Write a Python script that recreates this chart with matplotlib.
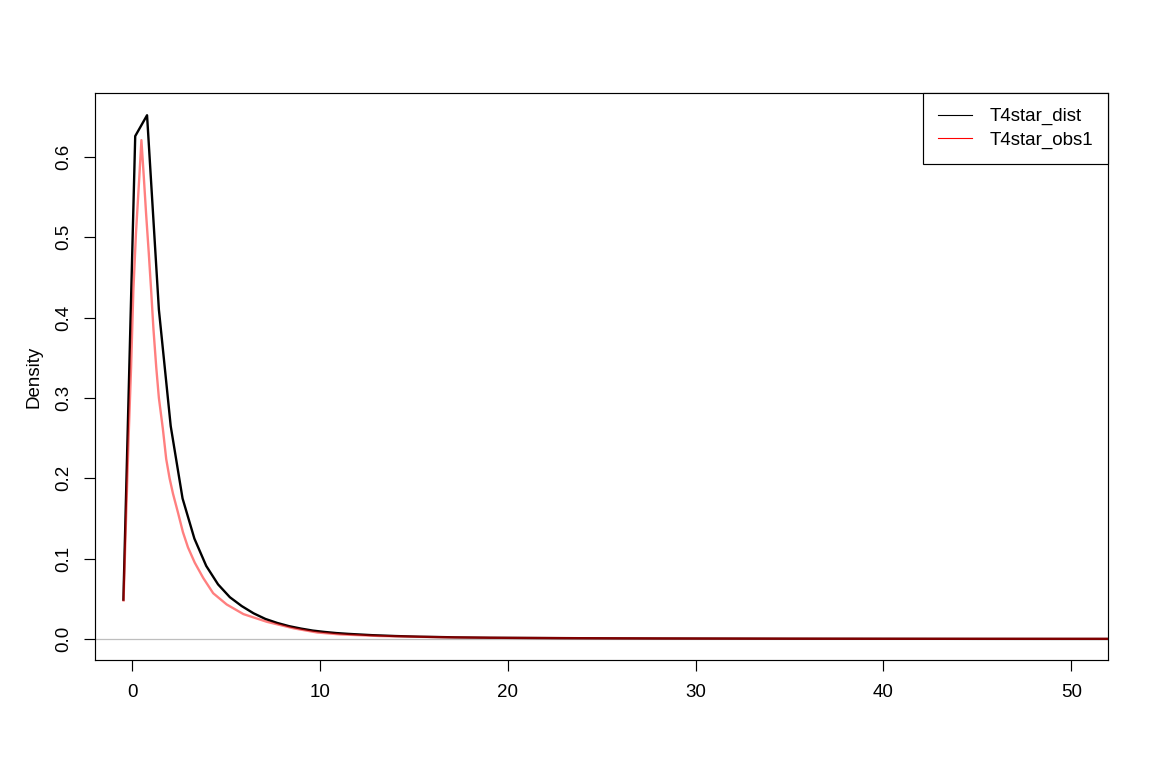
import matplotlib
matplotlib.use("Agg")
import matplotlib.pyplot as plt
from matplotlib.lines import Line2D

plt.rcParams['font.family'] = ['Liberation Sans', 'DejaVu Sans']

# density estimate of T4star_dist (coarse grid)
dist_x = [-0.46, 0.17, 0.80, 1.43, 2.06, 2.69, 3.32, 3.95, 4.58, 5.21, 5.84,
          6.47, 7.10, 7.73, 8.36, 8.99, 9.62, 10.25, 10.88, 11.51, 12.77,
          14.03, 15.29, 17.18, 19.07, 22.85, 25.37, 28.2, 35.0, 45.0, 55.0]
dist_y = [0.049, 0.626, 0.652, 0.41, 0.265, 0.175, 0.125, 0.091, 0.068,
          0.052, 0.041, 0.032, 0.025, 0.020, 0.016, 0.013, 0.0105, 0.0088,
          0.0074, 0.0064, 0.0048, 0.0037, 0.0029, 0.0021, 0.0016, 0.0011,
          0.0009, 0.0007, 0.0004, 0.0002, 0.0001]

# density estimate of T4star_obs1
obs_x = [-0.45, -0.32, -0.18, -0.05, 0.07, 0.21, 0.39, 0.50, 0.625, 0.75,
         0.89, 1.02, 1.14, 1.29, 1.43, 1.64, 1.82, 2.0, 2.18, 2.45, 2.71,
         2.98, 3.34, 3.79, 4.32, 5.04, 5.93, 7.18, 8.6, 9.86, 11.1, 13.2,
         16.7, 20.0, 25.0, 30.0, 40.0, 55.0]
obs_y = [0.048, 0.148, 0.252, 0.338, 0.433, 0.505, 0.576, 0.621, 0.576,
         0.529, 0.481, 0.433, 0.386, 0.338, 0.30, 0.262, 0.224, 0.200, 0.181,
         0.157, 0.133, 0.114, 0.095, 0.076, 0.057, 0.043, 0.031, 0.0214,
         0.0133, 0.0081, 0.0057, 0.0037, 0.0021, 0.0014, 0.0009, 0.0006,
         0.0003, 0.0002]

x_ticks = [0, 10, 20, 30, 40, 50]
y_ticks = [0.0, 0.1, 0.2, 0.3, 0.4, 0.5, 0.6]
labels = ['T4star_dist', 'T4star_obs1']

fs = 13.5

fig = plt.figure(figsize=(11.57, 7.78), dpi=100)
ax = fig.add_axes([0.0818, 0.1517, 0.9577 - 0.0818, 0.8805 - 0.1517])

ax.axhline(0, color='#bebebe', lw=0.9, zorder=1)
ax.plot(dist_x, dist_y, color='black', lw=1.7, zorder=2)
ax.plot(obs_x, obs_y, color='red', alpha=0.5, lw=1.7, zorder=3)

ax.set_xlim(-1.99, 51.96)
ax.set_ylim(-0.0261, 0.6797)
ax.set_xticks(x_ticks)
ax.set_yticks(y_ticks)
ax.set_yticklabels(['%.1f' % v for v in y_ticks], rotation=90, va='center')
ax.tick_params(length=8, width=0.85, labelsize=fs)
ax.tick_params(axis='x', pad=9.5)
ax.tick_params(axis='y', pad=8)
for s in ax.spines.values():
    s.set_linewidth(0.85)

ax.set_ylabel('Density', fontsize=fs)
ax.yaxis.set_label_coords(-0.0515, 0.5)

handles = [Line2D([], [], color='black', lw=0.8),
           Line2D([], [], color='red', lw=0.8)]
leg = ax.legend(handles, labels, loc='upper right', fontsize=fs,
                borderaxespad=0, fancybox=False, framealpha=1,
                edgecolor='black', handlelength=1.81, handletextpad=0.94,
                borderpad=0.8, labelspacing=0.35)
leg.get_frame().set_linewidth(0.85)

fig.savefig('out.png', dpi=100)
